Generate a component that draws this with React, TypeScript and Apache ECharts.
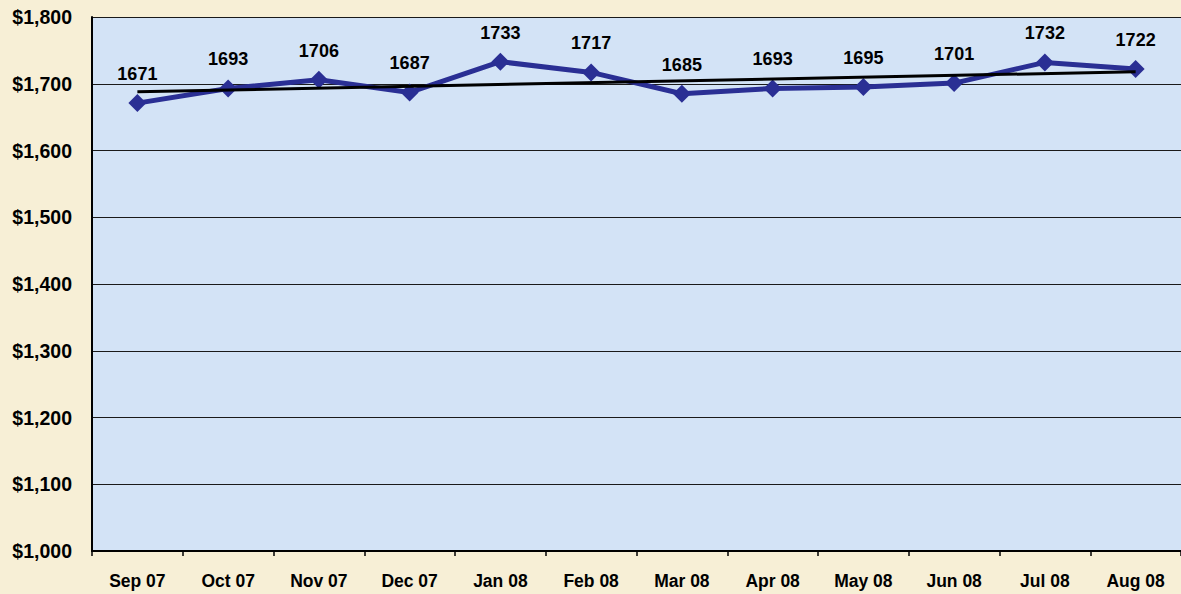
import React, { useEffect, useRef } from "react";
import * as echarts from "echarts";

const categories = ["Sep 07", "Oct 07", "Nov 07", "Dec 07", "Jan 08", "Feb 08", "Mar 08", "Apr 08", "May 08", "Jun 08", "Jul 08", "Aug 08"];
const values = [1671, 1693, 1706, 1687, 1733, 1717, 1685, 1693, 1695, 1701, 1732, 1722];
// Trend line endpoints
const trendStart = 1688;
const trendEnd = 1718;
const yTicks = { min: 1000, max: 1800, interval: 100 };

export default function App() {
  const ref = useRef<HTMLDivElement>(null);
  useEffect(() => {
    if (!ref.current) return;
    const chart = echarts.init(ref.current, null, { renderer: "svg" });
    const trend = categories.map((_, i) => (i === 0 ? trendStart : i === categories.length - 1 ? trendEnd : null));
    chart.setOption({
      animation: false,
      backgroundColor: "#f7efd6",
      textStyle: { fontFamily: "Liberation Sans, Arial, sans-serif" },
      grid: {
        left: 92,
        top: 17,
        width: 1091,
        height: 534,
        show: true,
        backgroundColor: "#d3e3f6",
        borderWidth: 0,
      },
      xAxis: {
        type: "category",
        data: categories,
        boundaryGap: true,
        axisLine: { show: true, lineStyle: { color: "#000", width: 2 } },
        axisTick: { show: true, length: 5, lineStyle: { color: "#000", width: 1.5 } },
        axisLabel: { color: "#000", fontSize: 17.5, fontWeight: "bold", margin: 21 },
        splitLine: { show: false },
      },
      yAxis: {
        type: "value",
        min: yTicks.min,
        max: yTicks.max,
        interval: yTicks.interval,
        axisLine: { show: true, lineStyle: { color: "#000", width: 2 } },
        axisTick: { show: false },
        axisLabel: {
          color: "#000",
          fontSize: 19.5,
          fontWeight: "bold",
          margin: 20,
          formatter: (v: number) => "$" + v.toLocaleString("en-US"),
        },
        splitLine: { show: true, lineStyle: { color: "#1a1a1a", width: 1.2 } },
      },
      series: [
        {
          type: "line",
          data: values,
          symbol: "diamond",
          symbolSize: 18,
          lineStyle: { color: "#2a2f94", width: 5 },
          itemStyle: { color: "#2a2f94" },
          label: {
            show: true,
            position: "top",
            distance: 11,
            color: "#000",
            fontSize: 18,
            fontWeight: "bold",
          },
          z: 3,
        },
        {
          type: "line",
          data: trend,
          connectNulls: true,
          symbol: "none",
          lineStyle: { color: "#000", width: 3 },
          z: 4,
          silent: true,
        },
      ],
    });
    return () => chart.dispose();
  }, []);
  return <div ref={ref} style={{ width: 1181, height: 594, position: "absolute", left: 0, top: 0 }} />;
}
